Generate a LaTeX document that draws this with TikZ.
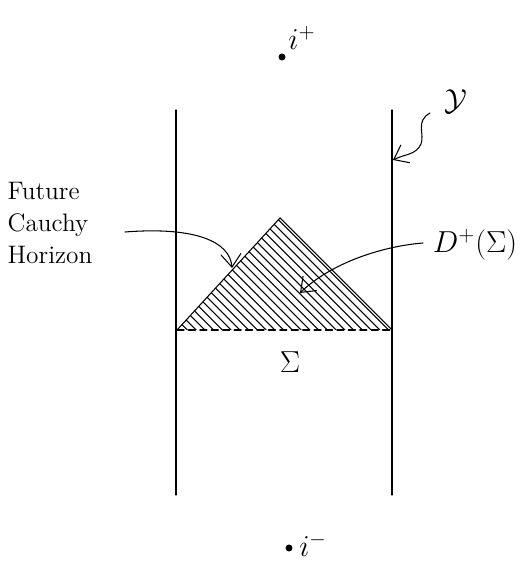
\documentclass[tikz,border=0pt]{standalone}
\usepackage{amsmath,amssymb}
\usetikzlibrary{arrows.meta}
\begin{document}
\begin{tikzpicture}[line cap=round,semithick,every node/.style={font=\LARGE}]
\tikzset{dot/.style={circle,fill=black,inner sep=1.4pt},hatch/.style={semithick},barb/.style={-{Straight Barb[length=2.6mm,width=4mm]}}}
\useasboundingbox (0,0) rectangle (10.58,11.38);
% the two boundary lines
\coordinate (lt) at (3.52,9.18); \coordinate (lb) at (3.52,1.48);
\coordinate (rt) at (7.84,9.18); \coordinate (rb) at (7.84,1.48);
\draw (lt)--(lb); \draw (rt)--(rb);
% D^+ triangle on Sigma
\coordinate (a) at (5.6,7.02); \coordinate (l) at (3.54,4.78); \coordinate (r) at (7.84,4.78);
\begin{scope}
  \clip (l)--(a)--(r)--cycle;
  \foreach \k in {0,...,25} \draw[hatch] (1.25+\k*0.175,7.1) -- ++(2.4,-2.4);
\end{scope}
\draw (l)--(a)--(r);
\draw[dashed,dash pattern=on 4pt off 2.5pt] (l)--(r);
\node (sig) at (5.8,4.14) {$\Sigma$};
% labels with arrows
\node[align=left,font=\Large] (hor) at (1.0,6.92) {Future\\Cauchy\\Horizon};
\coordinate (hs) at (2.5,6.74); \coordinate (ht) at (4.64,6.02);
\draw[barb] (hs) .. controls (3.9,6.85) and (4.6,6.55) .. (ht);
\node (dp) at (9.5,6.48) {$D^{+}(\Sigma)$};
\coordinate (ds) at (8.46,6.52); \coordinate (dt) at (6.0,5.52);
\draw[barb] (ds) .. controls (7.6,6.45) and (6.6,6.1) .. (dt);
\node (scri) at (9.12,9.34) {$\mathcal{Y}$};
\coordinate (ys) at (8.6,9.12); \coordinate (yt) at (7.86,8.18);
\draw[barb] (ys) .. controls (8.3,8.95) and (8.5,8.7) .. (8.42,8.5) .. controls (8.32,8.28) and (8.1,8.3) .. (yt);
% i^+ and i^-
\node[dot] (ip) at (5.64,10.24) {}; \node (iplab) at (6.04,10.62) {$i^{+}$};
\node[dot] (im) at (5.78,0.42) {}; \node (imlab) at (6.26,0.48) {$i^{-}$};
\end{tikzpicture}
\end{document}
